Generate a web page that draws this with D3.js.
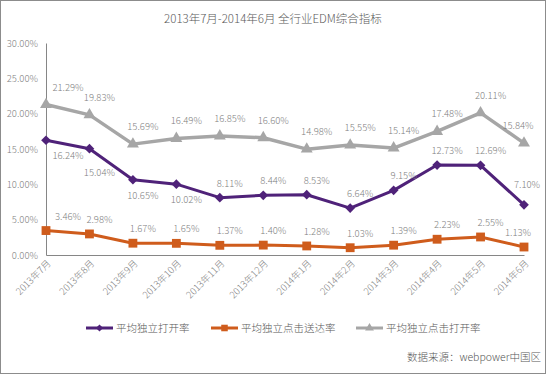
<!DOCTYPE html>
<html>
<head>
<meta charset="utf-8">
<script src="https://cdn.jsdelivr.net/npm/d3@7"></script>
<style>
  html, body { margin: 0; padding: 0; background: #fff; }
  svg text { font-family: "Noto Sans CJK SC", "Noto Sans", sans-serif; font-weight: 300; fill: #7f7f7f; }
</style>
</head>
<body>
<div id="chart"></div>
<script>
"use strict";

// Data
const months = ["2013年7月", "2013年8月", "2013年9月", "2013年10月", "2013年11月", "2013年12月",
  "2014年1月", "2014年2月", "2014年3月", "2014年4月", "2014年5月", "2014年6月"];
const openRate = [16.24, 15.04, 10.65, 10.02, 8.11, 8.44, 8.53, 6.64, 9.15, 12.73, 12.69, 7.10];
const clickDeliverRate = [3.46, 2.98, 1.67, 1.65, 1.37, 1.40, 1.28, 1.03, 1.39, 2.23, 2.55, 1.13];
const clickOpenRate = [21.29, 19.83, 15.69, 16.49, 16.85, 16.60, 14.98, 15.55, 15.14, 17.48, 20.11, 15.84];
const yTicks = [0, 5, 10, 15, 20, 25, 30];
const seriesNames = ["平均独立打开率", "平均独立点击送达率", "平均独立点击打开率"];

const w = 546, h = 374;
const margin = { top: 43, right: 22, bottom: 119, left: 46 };

const svg = d3.select("#chart").append("svg").attr("width", w).attr("height", h);

svg.append("rect")
  .attr("x", 0.5).attr("y", 0.5)
  .attr("width", w - 1).attr("height", h - 1)
  .attr("fill", "#fff").attr("stroke", "#8c8c8c");

svg.append("text")
  .attr("x", w / 2).attr("y", 23)
  .attr("text-anchor", "middle")
  .attr("font-size", 11.5)
  .style("fill", "#595959")
  .text("2013年7月-2014年6月  全行业EDM综合指标");

const x = d3.scalePoint().domain(months).range([margin.left, w - margin.right]);
const y = d3.scaleLinear().domain([0, 30]).range([h - margin.bottom, margin.top]);

// Y axis
const yAxis = svg.append("g")
  .attr("transform", `translate(${margin.left},0)`)
  .call(d3.axisLeft(y).tickValues(yTicks).tickSize(0).tickPadding(8)
    .tickFormat((d) => d.toFixed(2) + "%"));
yAxis.select(".domain").attr("stroke", "#868686");
yAxis.selectAll("text").attr("font-size", 9.5).style("fill", "#7f7f7f");

// X axis
const xAxis = svg.append("g")
  .attr("transform", `translate(0,${h - margin.bottom})`)
  .call(d3.axisBottom(x).tickSize(0).tickPadding(0));
xAxis.select(".domain").attr("stroke", "#868686");
xAxis.selectAll("text")
  .attr("font-size", 9.5)
  .attr("text-anchor", "end")
  .attr("dy", 0)
  .attr("transform", "translate(5,9) rotate(-45)")
  .style("fill", "#7f7f7f");

const series = [
  { name: seriesNames[0], values: openRate, color: "#4f2279", width: 3, marker: d3.symbolDiamond2, size: 60 },
  { name: seriesNames[1], values: clickDeliverRate, color: "#cf5c1c", width: 3, marker: d3.symbolSquare, size: 78 },
  { name: seriesNames[2], values: clickOpenRate, color: "#a6a6a6", width: 3.5, marker: d3.symbolTriangle, size: 62 },
];

const line = d3.line()
  .x((d, i) => x(months[i]))
  .y((d) => y(d));

// draw gray first, then purple, then orange on top
[series[2], series[0], series[1]].forEach((s) => {
  svg.append("path")
    .datum(s.values)
    .attr("fill", "none")
    .attr("stroke", s.color)
    .attr("stroke-width", s.width)
    .attr("stroke-linejoin", "round")
    .attr("d", line);

  svg.selectAll(null)
    .data(s.values)
    .enter()
    .append("path")
    .attr("transform", (d, i) => `translate(${x(months[i])},${y(d)})`)
    .attr("d", d3.symbol().type(s.marker).size(s.size))
    .attr("fill", s.color);
});

// Data labels (first label pushed right off the axis, a couple moved off the line)
const labelText = (v) => v.toFixed(2) + "%";
const addLabels = (values, dyFor, nudge = {}) => {
  svg.selectAll(null)
    .data(values)
    .enter()
    .append("text")
    .attr("font-size", 9.5)
    .attr("text-anchor", "middle")
    .attr("x", (d, i) => {
      const dx = i === 0 ? 22 : 10;
      const px = Math.min(x(months[i]) + dx, w - 28);
      return px + (nudge[i] ? nudge[i][0] : 0);
    })
    .attr("y", (d, i) => y(d) + dyFor(i) + (nudge[i] ? nudge[i][1] : 0))
    .text(labelText);
};
addLabels(clickOpenRate, () => -14);
addLabels(openRate, (i) => (i < 4 ? 19 : -11), { 1: [0, 8], 11: [9, -6] });
addLabels(clickDeliverRate, () => -11);

// Legend
const legendX = [86, 211, 356];
const legend = svg.selectAll(".legend")
  .data(series)
  .enter()
  .append("g")
  .attr("class", "legend")
  .attr("transform", (d, i) => `translate(${legendX[i]},328)`);
legend.append("line")
  .attr("x1", 0).attr("x2", 27)
  .attr("stroke", (d) => d.color)
  .attr("stroke-width", 3);
legend.append("path")
  .attr("transform", "translate(13.5,0)")
  .attr("d", (d) => d3.symbol().type(d.marker).size(d.size * 0.55)())
  .attr("fill", (d) => d.color);
legend.append("text")
  .attr("x", 30).attr("y", 4)
  .attr("font-size", 10.5)
  .style("fill", "#595959")
  .text((d) => d.name);

svg.append("text")
  .attr("x", w - 5).attr("y", 361)
  .attr("text-anchor", "end")
  .attr("font-size", 10.5)
  .style("fill", "#595959")
  .text("数据来源：webpower中国区");
</script>
</body>
</html>
